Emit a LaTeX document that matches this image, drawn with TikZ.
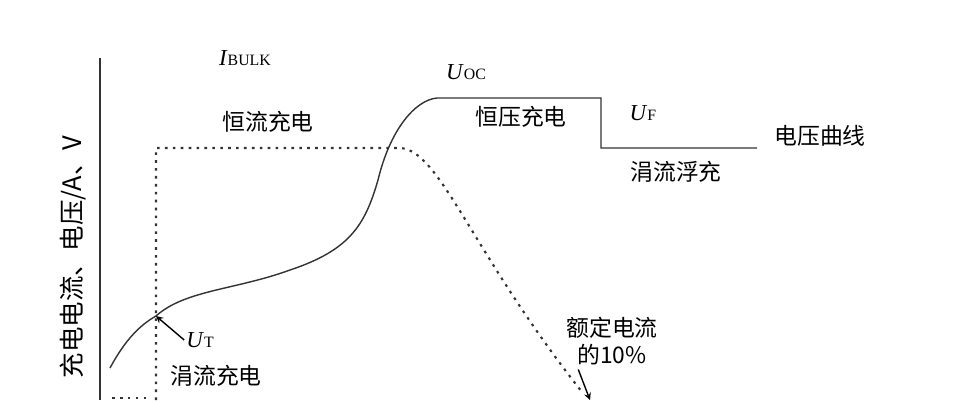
\documentclass[tikz,border=0pt]{standalone}
\usepackage{fontspec}
\setmainfont{Liberation Serif}
\newfontfamily\cjk{Noto Sans CJK SC}
\usetikzlibrary{positioning}

\begin{document}
\begin{tikzpicture}[x=0.02cm,y=-0.02cm,>=stealth,
	lbl/.style={font=\cjk\fontsize{13}{15}\selectfont,inner sep=1pt},
	sym/.style={font=\fontsize{13}{15}\selectfont\itshape,inner sep=1pt},
	curve/.style={line width=0.8pt,black!80},
	dots/.style={line width=1.2pt,dash pattern=on 1.5pt off 3pt,black!80}
	]
	\useasboundingbox (0,0) rectangle (976,400);

	% axis
	\coordinate (top) at (100,58);
	\coordinate (bot) at (100,400);
	\draw[line width=0.8pt,black!80] (top) -- (bot);
	\node[lbl,rotate=90,font=\cjk\fontsize{14.5}{16}\selectfont] (ylab) at (73,257) {充电电流、电压/A、V};

	% voltage curve
	\coordinate (v0) at (110,368);
	\coordinate (ut) at (156,316);
	\coordinate (oc) at (437,98);
	\coordinate (oe) at (601,98);
	\coordinate (fs) at (601,148);
	\coordinate (fe) at (757,148);
	\draw[curve] (v0) .. controls (125,340) and (140,325) .. (ut)
		.. controls (185,290) and (235,290) .. (290,270)
		.. controls (350,250) and (365,225) .. (378,180)
		.. controls (390,130) and (415,100) .. (oc) -- (oe) -- (fs) -- (fe);

	% current curve
	\coordinate (c0) at (156,400);
	\coordinate (c1) at (156,148);
	\coordinate (c2) at (400,148);
	\coordinate (c3) at (582,392);
	\draw[dots] (c0) -- (c1) -- (c2) .. controls (440,150) and (470,250) .. (c3);
	\draw[dots] (112,398) -- (150,398);

	% labels
	\node[sym] (ibulk) at (245,58) {I\textup{\fontsize{9}{10}\selectfont BULK}};
	\node[lbl] (cc) at (268,122) {恒流充电};
	\node[sym] (uoc) at (466,72) {U\textup{\fontsize{9}{10}\selectfont OC}};
	\node[lbl] (cv) at (521,117) {恒压充电};
	\node[sym] (uf) at (643,113) {U\textup{\fontsize{9}{10}\selectfont F}};
	\node[lbl] (vc) at (820,136) {电压曲线};
	\node[lbl] (fl) at (676,172) {涓流浮充};
	\node[sym] (utl) at (200,340) {U\textup{\fontsize{9}{10}\selectfont T}};
	\node[lbl] (tc) at (216,376) {涓流充电};
	\node[lbl] (rate) at (612,328) {额定电流};
	\node[lbl] (pct) at (612,355) {的10\%};
	\coordinate (pe) at (590,400);

	\draw[->,line width=0.8pt] (utl.west) -- (ut);
	\draw[->,line width=0.8pt] (pct.south west) ++(3,2) -- (pe);
\end{tikzpicture}
\end{document}
